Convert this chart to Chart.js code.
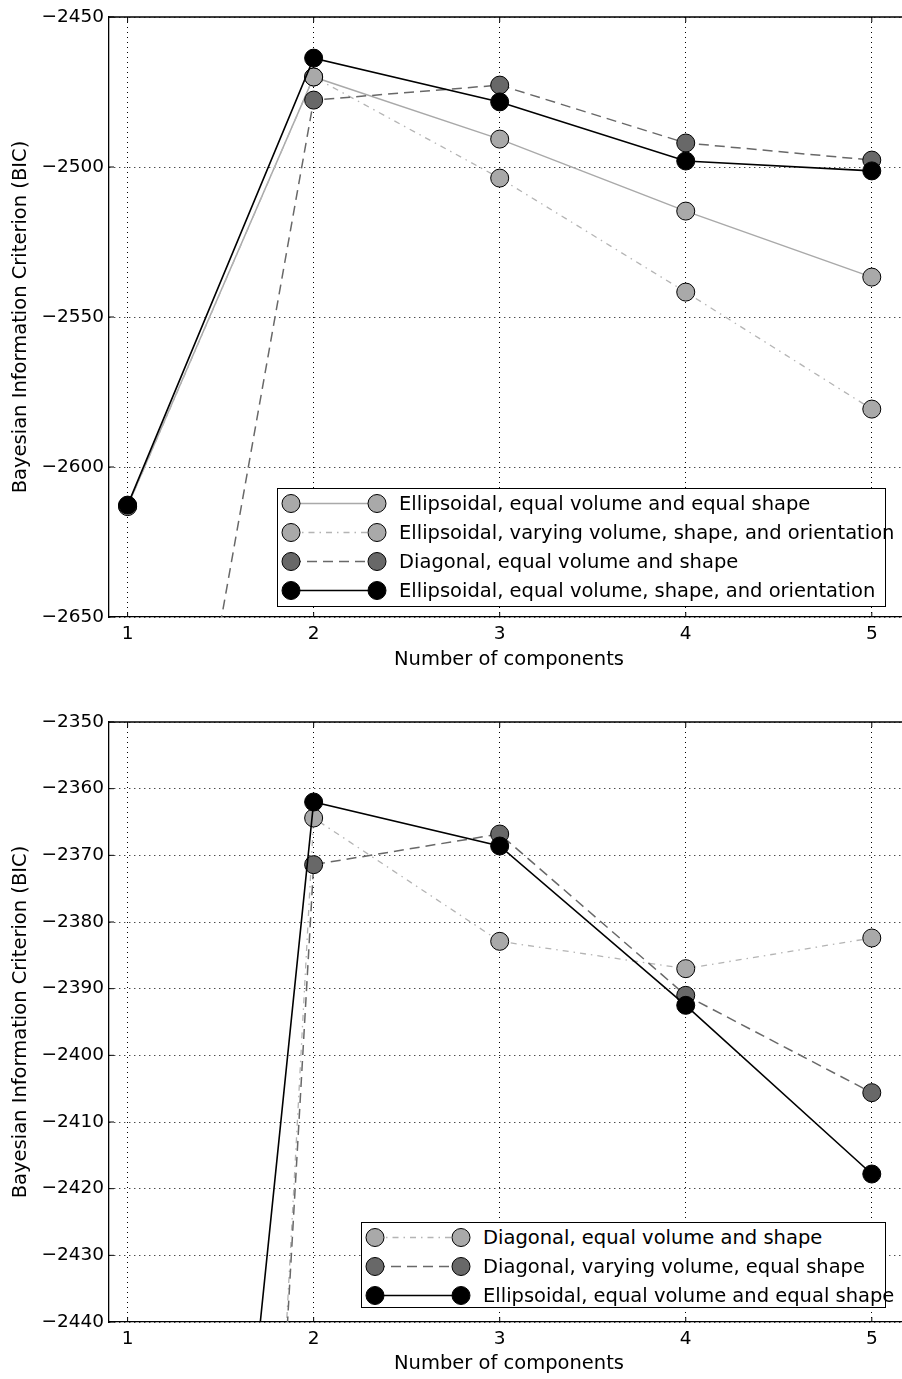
<!DOCTYPE html>
<html>
<head>
<meta charset="utf-8">
<script src="https://cdn.jsdelivr.net/npm/chart.js@4"></script>
<style>
  html, body { margin: 0; padding: 0; background: #fff; overflow: hidden; }
  body { width: 902px; height: 1379px; position: relative; font-family: "DejaVu Sans", sans-serif; }
  canvas { position: absolute; left: 0; }
  .legend { position: absolute; background: #fff; border: 1px solid #000; box-sizing: border-box; z-index: 2; }
  .row { position: absolute; left: 0; height: 29px; display: flex; align-items: center; font-size: 19.5px; white-space: nowrap; color: #000; }
  .row svg { flex: none; }
</style>
</head>
<body>
<canvas id="topChart" width="919" height="690" style="top:0"></canvas>
<canvas id="bottomChart" width="919" height="689" style="top:690px"></canvas>
<div class="legend" id="topLegend" style="left:277px;top:488px;width:609px;height:119px"></div>
<div class="legend" id="bottomLegend" style="left:361px;top:1222px;width:525px;height:86px"></div>
<script>
// x axis: number of components
const xTicks = [1, 2, 3, 4, 5];

// top panel
const topNames = [
    'Ellipsoidal, equal volume and equal shape',
    'Ellipsoidal, varying volume, shape, and orientation',
    'Diagonal, equal volume and shape',
    'Ellipsoidal, equal volume, shape, and orientation'
];
const topEqualShape = [-2613, -2470, -2490.7, -2514.7, -2536.7];
const topVarying = [-2613.2, -2470, -2503.7, -2541.7, -2580.7];
const topDiagonal = [-2826, -2477.7, -2472.7, -2492, -2497.7];
const topEllipsoidal = [-2612.7, -2463.7, -2478.3, -2498, -2501.3];

// bottom panel
const bottomNames = [
    'Diagonal, equal volume and shape',
    'Diagonal, varying volume, equal shape',
    'Ellipsoidal, equal volume and equal shape'
];
const bottomDiagEqual = [-2885, -2364.4, -2382.9, -2387, -2382.4];
const bottomDiagVarying = [-2860, -2371.4, -2366.8, -2391, -2405.6];
const bottomEllipsoidal = [-2634, -2362, -2368.6, -2392.5, -2417.8];

const LIGHT = '#a9a9a9';
const DARK = '#686868';
const solidLight = { line: LIGHT, fill: LIGHT, dash: [], width: 1.5 };
const dashDot = { line: '#b4b4b4', fill: LIGHT, dash: [6, 5, 1.5, 5], width: 1.3 };
const dashed = { line: DARK, fill: DARK, dash: [10, 6], width: 1.5 };
const solidBlack = { line: '#000', fill: '#000', dash: [], width: 1.6 };

Chart.defaults.font.family = '"DejaVu Sans", sans-serif';
Chart.defaults.font.size = 19.5;
Chart.defaults.color = '#000';

// box round the plot and inward tick marks, as matplotlib draws them
const framePlugin = {
    id: 'frame',
    afterDraw(chart) {
        const { ctx, chartArea: a, scales: { x, y } } = chart;
        ctx.save();
        ctx.strokeStyle = '#000';
        ctx.lineWidth = 1.3;
        ctx.beginPath();
        ctx.moveTo(a.left, a.top);
        ctx.lineTo(a.right, a.top);
        ctx.lineTo(a.right, a.bottom);
        ctx.stroke();
        ctx.lineWidth = 1;
        ctx.beginPath();
        x.ticks.forEach(t => {
            const px = x.getPixelForValue(t.value);
            ctx.moveTo(px, a.bottom); ctx.lineTo(px, a.bottom - 5);
            ctx.moveTo(px, a.top); ctx.lineTo(px, a.top + 5);
        });
        y.ticks.forEach(t => {
            const py = y.getPixelForValue(t.value);
            ctx.moveTo(a.left, py); ctx.lineTo(a.left + 5, py);
            ctx.moveTo(a.right, py); ctx.lineTo(a.right - 5, py);
        });
        ctx.stroke();
        ctx.restore();
    }
};

function makeChart(id, names, series, styles, yMin, yMax, yStep, padTop, axisH, padBottom) {
    const datasets = series.map((vals, i) => ({
        label: names[i],
        data: vals.map((v, j) => ({ x: xTicks[j], y: v })),
        borderColor: styles[i].line,
        borderWidth: styles[i].width,
        borderDash: styles[i].dash,
        pointRadius: 9,
        pointHoverRadius: 9,
        pointBackgroundColor: styles[i].fill,
        pointBorderColor: '#000',
        pointBorderWidth: 1,
        fill: false,
        tension: 0,
        order: series.length - i
    }));
    return new Chart(document.getElementById(id), {
        type: 'line',
        data: { datasets: datasets },
        plugins: [framePlugin],
        options: {
            responsive: false,
            animation: false,
            layout: { padding: { top: padTop, bottom: padBottom, left: 0, right: 0 } },
            plugins: { legend: { display: false }, tooltip: { enabled: false } },
            scales: {
                x: {
                    type: 'linear',
                    min: 0.9,
                    max: 5.2,
                    z: 1,
                    afterBuildTicks: s => { s.ticks = xTicks.map(v => ({ value: v })); },
                    afterFit: s => { s.height = axisH; },
                    ticks: { padding: 6, font: { size: 18.5 }, callback: v => String(v) },
                    grid: { color: '#000', lineWidth: 1, drawTicks: false },
                    border: { color: '#000', width: 1.3, dash: [1, 4] },
                    title: { display: true, text: 'Number of components', padding: 0 }
                },
                y: {
                    min: yMin,
                    max: yMax,
                    z: 1,
                    afterFit: s => { s.width = 109; },
                    ticks: { stepSize: yStep, padding: 5, font: { size: 18.5 }, callback: v => String(v).replace('-', '\u2212') },
                    grid: { color: '#000', lineWidth: 1, drawTicks: false },
                    border: { color: '#000', width: 1.3, dash: [1, 4] },
                    title: { display: true, text: 'Bayesian Information Criterion (BIC)', padding: { top: 9, bottom: 0 } }
                }
            }
        }
    });
}

function makeLegend(id, names, styles) {
    const box = document.getElementById(id);
    names.forEach((name, i) => {
        const st = styles[i];
        const row = document.createElement('div');
        row.className = 'row';
        row.style.top = (i * 29) + 'px';
        row.innerHTML =
            '<svg width="121" height="29">' +
            '<line x1="13" y1="14.5" x2="99" y2="14.5" stroke="' + st.line + '" stroke-width="' + st.width + '"' +
            (st.dash.length ? ' stroke-dasharray="' + st.dash.join(' ') + '"' : '') + '/>' +
            '<circle cx="13" cy="14.5" r="9" fill="' + st.fill + '" stroke="#000" stroke-width="1"/>' +
            '<circle cx="99" cy="14.5" r="9" fill="' + st.fill + '" stroke="#000" stroke-width="1"/>' +
            '</svg><span>' + name + '</span>';
        box.appendChild(row);
    });
}

const topStyles = [solidLight, dashDot, dashed, solidBlack];
const bottomStyles = [dashDot, dashed, solidBlack];

makeChart('topChart', topNames, [topEqualShape, topVarying, topDiagonal, topEllipsoidal],
    topStyles, -2650, -2450, 50, 17, 55, 18);
makeChart('bottomChart', bottomNames, [bottomDiagEqual, bottomDiagVarying, bottomEllipsoidal],
    bottomStyles, -2440, -2350, 10, 32, 54, 3);

makeLegend('topLegend', topNames, topStyles);
makeLegend('bottomLegend', bottomNames, bottomStyles);
</script>
</body>
</html>
